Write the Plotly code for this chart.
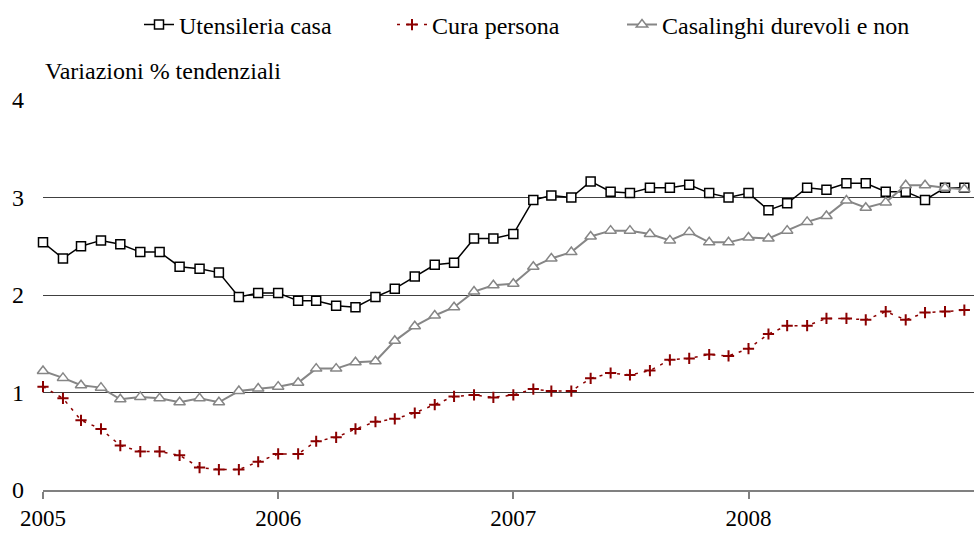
import pandas as pd
import plotly.graph_objects as go

# Monthly observations Jan 2005 - Dec 2008
months = pd.date_range("2005-01-01", "2008-12-01", freq="MS").strftime("%Y-%m-%d").tolist()

year_ticks = ["2005-01-01", "2006-01-01", "2007-01-01", "2008-01-01"]
year_labels = ["2005", "2006", "2007", "2008"]

y_ticks = [0, 1, 2, 3, 4]

names = ["Utensileria casa", "Cura persona", "Casalinghi durevoli e non"]

utensileria = [2.54, 2.375, 2.50, 2.56, 2.52, 2.44, 2.44, 2.29, 2.27, 2.23, 1.98, 2.02,
               2.02, 1.94, 1.94, 1.89, 1.875, 1.98, 2.065, 2.19, 2.31, 2.33, 2.58, 2.58,
               2.625, 2.975, 3.02, 3.00, 3.165, 3.06, 3.045, 3.10, 3.10, 3.13, 3.045, 3.00,
               3.045, 2.87, 2.94, 3.10, 3.08, 3.145, 3.145, 3.06, 3.06, 2.975, 3.10, 3.10]

cura = [1.06, 0.94, 0.715, 0.626, 0.456, 0.394, 0.394, 0.356, 0.23, 0.21, 0.21, 0.29,
        0.37, 0.37, 0.50, 0.54, 0.626, 0.70, 0.73, 0.79, 0.875, 0.96, 0.975, 0.95,
        0.975, 1.035, 1.015, 1.015, 1.145, 1.20, 1.18, 1.225, 1.335, 1.35, 1.39, 1.375,
        1.45, 1.60, 1.685, 1.685, 1.76, 1.76, 1.745, 1.83, 1.745, 1.82, 1.83, 1.845]

casalinghi = [1.22, 1.15, 1.075, 1.05, 0.93, 0.955, 0.94, 0.90, 0.94, 0.90, 1.015, 1.04,
              1.06, 1.10, 1.245, 1.245, 1.31, 1.32, 1.53, 1.68, 1.79, 1.875, 2.035, 2.10,
              2.115, 2.29, 2.375, 2.44, 2.60, 2.66, 2.66, 2.625, 2.56, 2.645, 2.54, 2.54,
              2.59, 2.58, 2.66, 2.75, 2.81, 2.97, 2.895, 2.95, 3.125, 3.125, 3.10, 3.085]

FONT = '"Liberation Serif", "Times New Roman", Times, serif'
FS = 24

fig = go.Figure()

fig.add_trace(go.Scatter(
    x=months, y=utensileria, name=names[0], mode="lines+markers",
    line=dict(color="black", width=1.5),
    marker=dict(symbol="square", size=9, color="white", line=dict(color="black", width=1.5)),
    legend="legend", showlegend=True, cliponaxis=False))

fig.add_trace(go.Scatter(
    x=months, y=cura, name=names[1], mode="lines+markers",
    line=dict(color="#8B0000", width=1.5, dash="3px,6px"),
    marker=dict(symbol="cross-thin", size=8, color="#8B0000", line=dict(color="#8B0000", width=2)),
    legend="legend2", showlegend=True, cliponaxis=False))

fig.add_trace(go.Scatter(
    x=months, y=casalinghi, name=names[2], mode="lines+markers",
    line=dict(color="#868686", width=2),
    marker=dict(symbol="triangle-up", size=10, color="white", line=dict(color="#868686", width=1.5)),
    legend="legend3", showlegend=True, cliponaxis=False))

W, H = 974, 533
ml, mr, mt, mb = 43, 0, 100, 43
pw = W - ml - mr
ph = H - mt - mb

def lx(px):
    return (px - ml) / pw

def ly(py):
    return (H - mb - py) / ph

leg_common = dict(orientation="h", xanchor="left", yanchor="middle",
                  font=dict(family=FONT, size=FS, color="black"),
                  bgcolor="rgba(0,0,0,0)", borderwidth=0)

fig.update_layout(
    width=W, height=H,
    margin=dict(l=ml, r=mr, t=mt, b=mb, autoexpand=False),
    paper_bgcolor="white", plot_bgcolor="white",
    showlegend=True,
    font=dict(family=FONT, size=FS, color="black"),
    legend=dict(x=lx(139), y=ly(25), **leg_common),
    legend2=dict(x=lx(392), y=ly(25), **leg_common),
    legend3=dict(x=lx(622), y=ly(25), **leg_common),
    xaxis=dict(
        type="date", range=["2005-01-01", "2008-12-16"],
        tickvals=year_ticks, ticktext=year_labels,
        showgrid=False, zeroline=False, automargin=False,
        showline=True, linecolor="#808080", linewidth=1.5,
        ticks="outside", ticklen=7, tickwidth=1.5, tickcolor="#808080",
        tickfont=dict(family=FONT, size=23, color="black"),
        ticklabelstandoff=0,
    ),
    yaxis=dict(
        range=[0, 4], tickvals=y_ticks, automargin=False,
        showgrid=True, gridcolor="#404040", gridwidth=1,
        zeroline=False, showline=False, ticks="",
        tickfont=dict(family=FONT, size=FS, color="black"),
        ticklabelstandoff=18,
    ),
    annotations=[dict(
        text="Variazioni % tendenziali", xref="paper", yref="paper",
        x=0, y=1, xshift=0, yshift=29, xanchor="left", yanchor="middle",
        showarrow=False, font=dict(family=FONT, size=FS, color="black"))],
)

fig.write_html("out.html",
               config={"displayModeBar": False},
               post_script="document.body.style.margin='0';document.body.style.padding='0';")
